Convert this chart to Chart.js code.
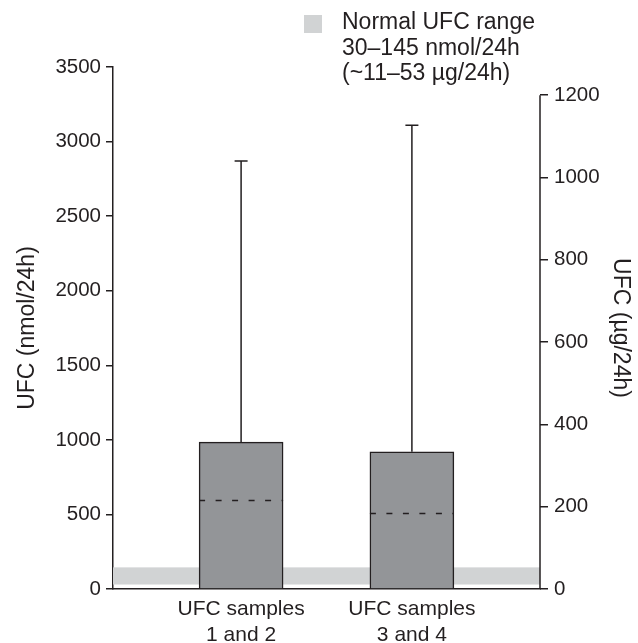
<!DOCTYPE html>
<html>
<head>
<meta charset="utf-8">
<script src="https://cdn.jsdelivr.net/npm/chart.js@4.4.1/dist/chart.umd.min.js"></script>
<style>
  html,body{margin:0;padding:0;background:#fff;}
</style>
</head>
<body>
<canvas id="ufcChart" width="638" height="643"></canvas>
<script>
// data
const categories = [['UFC samples', '1 and 2'], ['UFC samples', '3 and 4']];
const barValues = [985, 920];        // nmol/24h
const whiskerTops = [2870, 3110];    // nmol/24h
const medians = [600, 510];          // nmol/24h (dashed lines)
const normalRange = [30, 145];       // nmol/24h
const leftTicks = [0, 500, 1000, 1500, 2000, 2500, 3000, 3500];
const rightTicks = [0, 200, 400, 600, 800, 1000, 1200];
const legendLines = ['Normal UFC range', '30\u2013145 nmol/24h', '(~11\u201353 \u00b5g/24h)'];
const NMOL_PER_UG = 2.759;

const INK = '#231f20';
const FONT = '"Liberation Sans", Arial, sans-serif';

// gray band + whiskers + medians + right axis line + legend
const extras = {
    id: 'extras',
    beforeDatasetsDraw(chart) {
        const {ctx, chartArea: a, scales: {y}} = chart;
        const top = y.getPixelForValue(normalRange[1]);
        const bot = y.getPixelForValue(normalRange[0]);
        ctx.save();
        ctx.fillStyle = '#d1d3d4';
        ctx.fillRect(a.left, top, a.right - a.left, bot - top);
        ctx.restore();
    },
    afterDatasetsDraw(chart) {
        const {ctx, scales: {y, y2}} = chart;
        const meta = chart.getDatasetMeta(0);
        ctx.save();
        ctx.strokeStyle = INK;
        meta.data.forEach((bar, i) => {
            const x = bar.x;
            const yTop = y.getPixelForValue(whiskerTops[i]);
            ctx.lineWidth = 1.5;
            ctx.beginPath();
            ctx.moveTo(x, bar.y);
            ctx.lineTo(x, yTop);
            ctx.moveTo(x - 6.5, yTop);
            ctx.lineTo(x + 6.5, yTop);
            ctx.stroke();
            // median dashed
            const ym = Math.round(y.getPixelForValue(medians[i])) + 0.5;
            ctx.lineWidth = 1.4;
            ctx.setLineDash([6, 10.5]);
            ctx.beginPath();
            ctx.moveTo(bar.x - bar.width / 2, ym);
            ctx.lineTo(bar.x + bar.width / 2, ym);
            ctx.stroke();
            ctx.setLineDash([]);
        });
        // right axis line only up to 1200
        ctx.lineWidth = 1.5;
        ctx.beginPath();
        ctx.moveTo(y2.left, y2.getPixelForValue(0));
        ctx.lineTo(y2.left, y2.getPixelForValue(rightTicks[rightTicks.length - 1]));
        ctx.stroke();
        // legend
        ctx.fillStyle = '#d1d3d4';
        ctx.fillRect(304, 15, 18, 18);
        ctx.fillStyle = INK;
        ctx.font = '23px ' + FONT;
        ctx.textBaseline = 'alphabetic';
        legendLines.forEach((t, i) => ctx.fillText(t, 342, 29 + i * 25.5));
        ctx.restore();
    }
};

new Chart(document.getElementById('ufcChart'), {
    type: 'bar',
    data: {
        datasets: [{
            data: barValues.map((v, i) => ({x: i, y: v})),
            backgroundColor: '#939598',
            borderColor: INK,
            borderWidth: 1.5,
            barThickness: 84,
            yAxisID: 'y'
        }]
    },
    plugins: [extras],
    options: {
        responsive: false,
        animation: false,
        devicePixelRatio: 1,
        layout: {padding: {top: 67, left: 0, right: 0, bottom: 0}},
        plugins: {legend: {display: false}, tooltip: {enabled: false}},
        scales: {
            x: {
                type: 'linear',
                offset: false,
                min: -0.75, max: 1.75,
                afterBuildTicks: s => { s.ticks = categories.map((c, i) => ({value: i})); },
                afterFit: s => { s.height = 54; },
                grid: {display: false, drawTicks: false},
                border: {display: true, color: INK, width: 1.5},
                ticks: {
                    color: INK, font: {family: FONT, size: 21}, padding: 8,
                    maxRotation: 0, autoSkip: false,
                    callback: (v) => categories[v]
                }
            },
            y: {
                position: 'left',
                min: 0, max: 3500,
                afterBuildTicks: s => { s.ticks = leftTicks.map(v => ({value: v})); },
                afterFit: s => { s.width = 113; },
                grid: {drawOnChartArea: false, color: INK, lineWidth: 1.5, tickLength: 7},
                border: {display: true, color: INK, width: 1.5},
                ticks: {color: INK, font: {family: FONT, size: 20.5}, padding: 5, callback: v => String(v)},
                title: {display: true, text: 'UFC (nmol/24h)', color: INK,
                        font: {family: FONT, size: 23}, padding: {top: 14, bottom: 0}}
            },
            y2: {
                position: 'right',
                min: 0, max: 3500 / NMOL_PER_UG,
                afterBuildTicks: s => { s.ticks = rightTicks.map(v => ({value: v})); },
                afterFit: s => { s.width = 98; },
                grid: {drawOnChartArea: false, color: INK, lineWidth: 1.5, tickLength: 8},
                border: {display: false},
                ticks: {color: INK, font: {family: FONT, size: 20.5}, padding: 6, callback: v => String(v)},
                title: {display: true, text: 'UFC (\u00b5g/24h)', color: INK,
                        font: {family: FONT, size: 23}, padding: {top: 4, bottom: 0}}
            }
        }
    }
});
</script>
</body>
</html>
